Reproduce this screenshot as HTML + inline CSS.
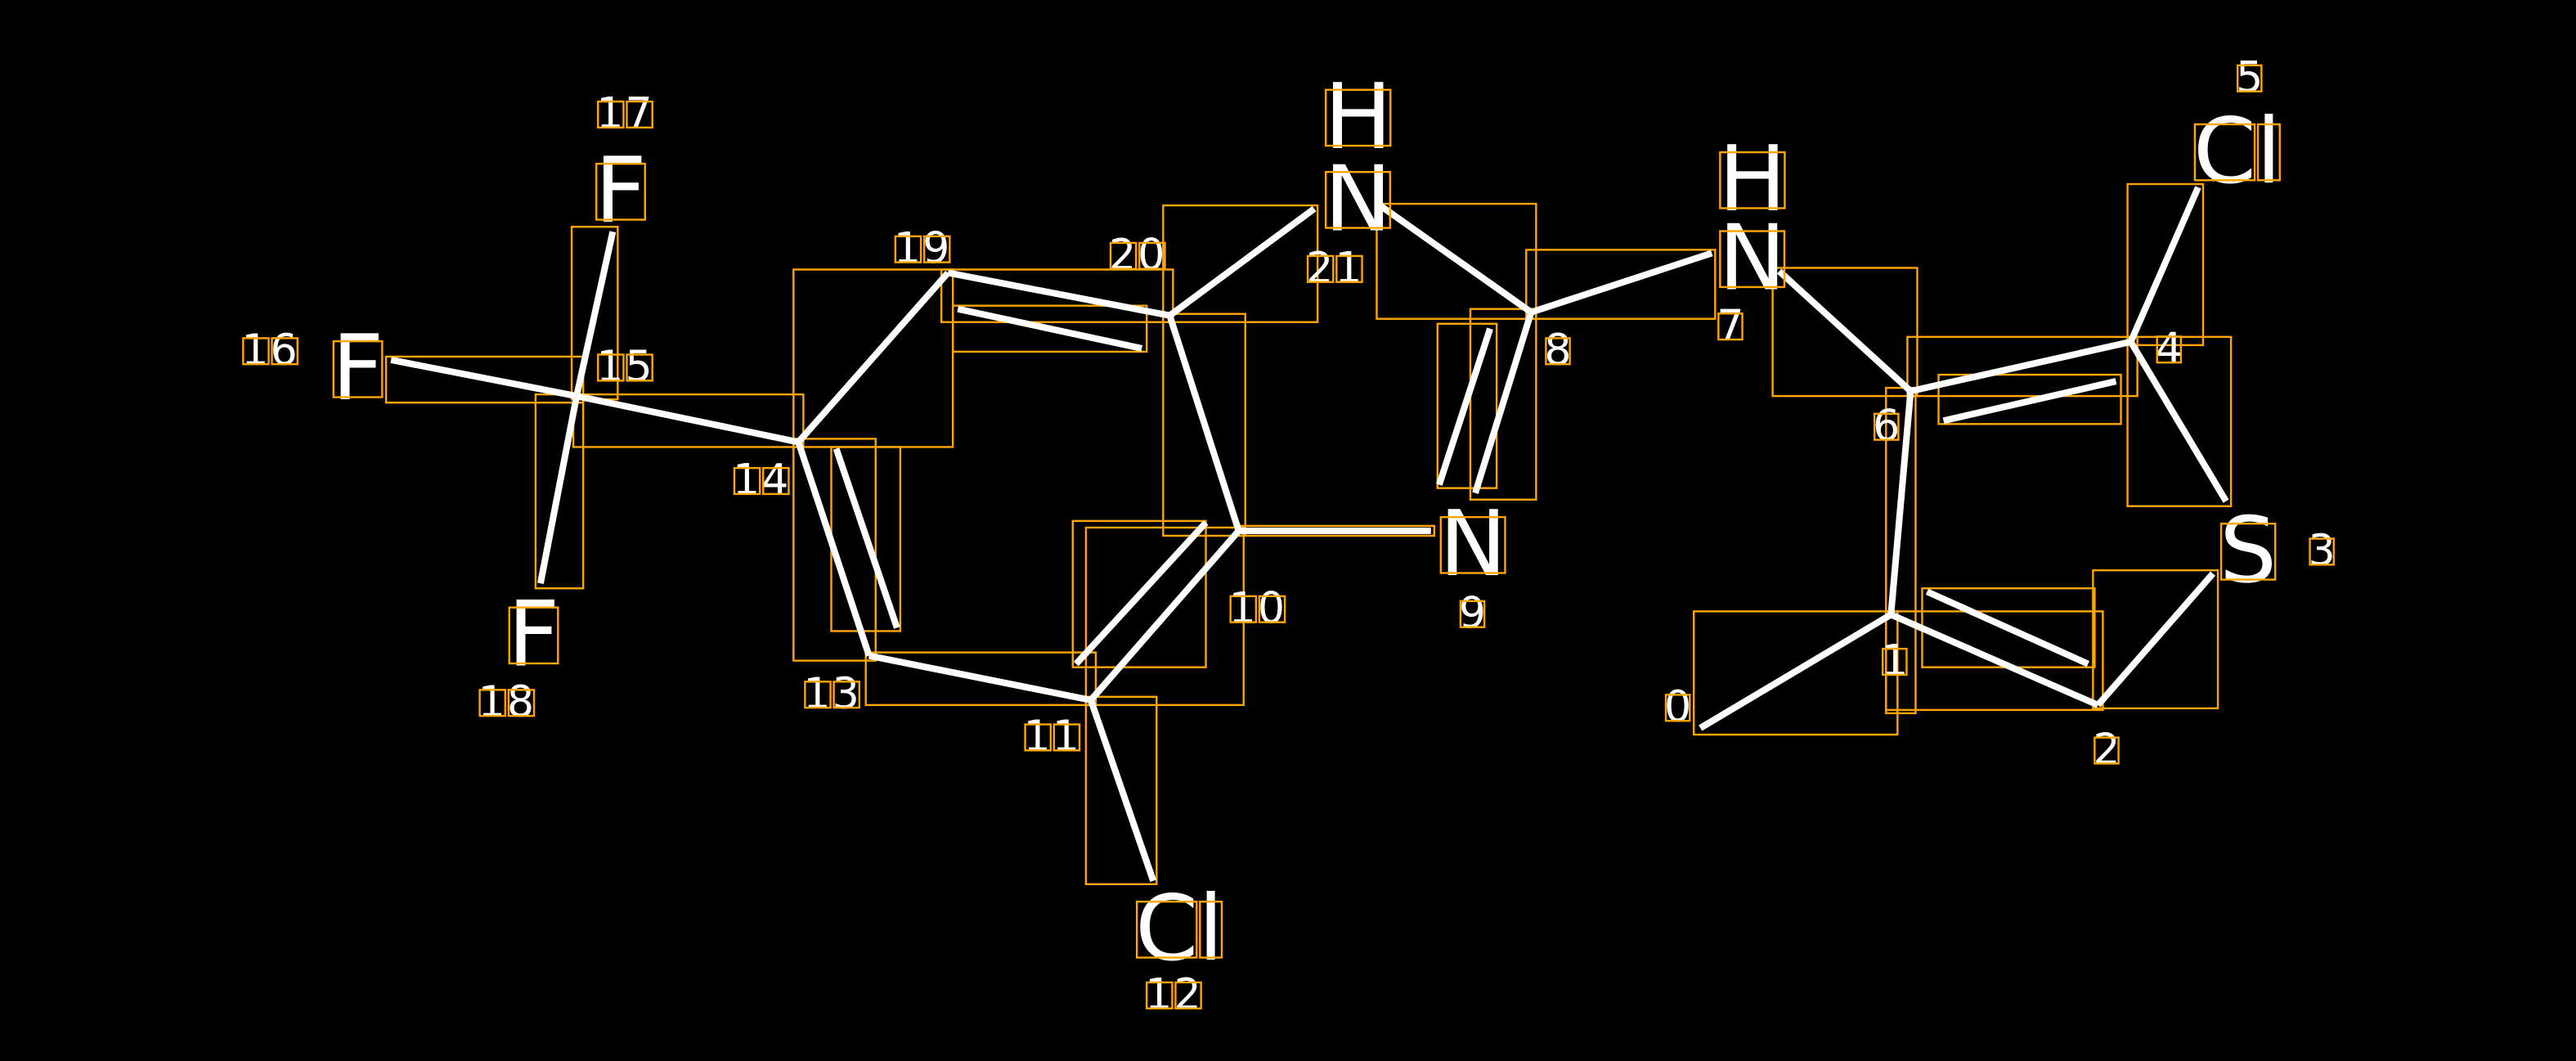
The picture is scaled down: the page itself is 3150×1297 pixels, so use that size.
<!DOCTYPE html>
<html><head><meta charset="utf-8"><style>
html,body{margin:0;padding:0;background:#000;overflow:hidden}
svg{display:block}
text{font-family:"DejaVu Sans","Liberation Sans",sans-serif;fill:#fff}
</style></head><body>
<svg id="s" width="3150" height="1297" viewBox="0 0 1568 645.6" preserveAspectRatio="none">
<rect width="1568" height="646" fill="#000"/>
<g fill="none" stroke="#FFA500" stroke-width="1.2">
<rect x="1031" y="372" width="124" height="75"/>
<rect x="1148" y="372" width="132" height="60"/>
<rect x="1170" y="358" width="105" height="48"/>
<rect x="1274" y="347" width="76" height="84"/>
<rect x="1148" y="236" width="18" height="198"/>
<rect x="1161" y="205" width="140" height="36"/>
<rect x="1180" y="228" width="111" height="30"/>
<rect x="1295" y="112" width="46" height="98"/>
<rect x="1295" y="205" width="63" height="103"/>
<rect x="1079" y="163" width="88" height="78"/>
<rect x="929" y="152" width="115" height="42"/>
<rect x="838" y="124" width="97" height="70"/>
<rect x="895" y="188" width="40" height="116"/>
<rect x="875" y="197" width="36" height="100"/>
<rect x="708" y="125" width="94" height="71"/>
<rect x="708" y="191" width="50" height="135"/>
<rect x="754" y="320" width="119" height="6"/>
<rect x="661" y="321" width="96" height="108"/>
<rect x="653" y="317" width="81" height="89"/>
<rect x="661" y="424" width="43" height="114"/>
<rect x="527" y="397" width="140" height="32"/>
<rect x="483" y="267" width="50" height="135"/>
<rect x="506" y="272" width="42" height="112"/>
<rect x="483" y="164" width="97" height="108"/>
<rect x="573" y="164" width="141" height="32"/>
<rect x="580" y="186" width="118" height="28"/>
<rect x="349" y="240" width="140" height="32"/>
<rect x="348" y="138" width="28" height="105"/>
<rect x="235" y="217" width="120" height="28"/>
<rect x="326" y="240" width="29" height="118"/>
</g>
<g stroke="#fff" stroke-width="4" stroke-linecap="butt">
<line x1="1035" y1="443" x2="1151" y2="374"/>
<line x1="1151" y1="374" x2="1277" y2="429"/>
<line x1="1173" y1="360" x2="1271" y2="404"/>
<line x1="1277" y1="429" x2="1347" y2="349"/>
<line x1="1151" y1="374" x2="1163" y2="238"/>
<line x1="1163" y1="238" x2="1297" y2="208"/>
<line x1="1183" y1="256" x2="1288" y2="232"/>
<line x1="1297" y1="208" x2="1338" y2="114"/>
<line x1="1297" y1="208" x2="1355" y2="305"/>
<line x1="1163" y1="238" x2="1083" y2="165"/>
<line x1="932" y1="190" x2="1042" y2="154"/>
<line x1="932" y1="190" x2="840" y2="125"/>
<line x1="932" y1="190" x2="898" y2="300"/>
<line x1="907" y1="200" x2="876" y2="295"/>
<line x1="800" y1="127" x2="712" y2="192"/>
<line x1="712" y1="192" x2="754" y2="323"/>
<line x1="754" y1="323" x2="871" y2="323"/>
<line x1="754" y1="323" x2="664" y2="426"/>
<line x1="734" y1="318" x2="655" y2="404"/>
<line x1="664" y1="426" x2="702" y2="536"/>
<line x1="664" y1="426" x2="529" y2="399"/>
<line x1="529" y1="399" x2="486" y2="269"/>
<line x1="509" y1="273" x2="546" y2="382"/>
<line x1="486" y1="269" x2="577" y2="166"/>
<line x1="577" y1="166" x2="712" y2="192"/>
<line x1="583" y1="188" x2="695" y2="212"/>
<line x1="486" y1="269" x2="351" y2="241"/>
<line x1="351" y1="241" x2="373" y2="141"/>
<line x1="351" y1="241" x2="238" y2="219"/>
<line x1="351" y1="241" x2="329" y2="355"/>
</g>
<g id="big" font-size="55">
<text x="806" y="90">H</text><text x="806" y="140">N</text>
<text x="1046" y="128">H</text><text x="1046" y="176">N</text>
<text x="362" y="135">F</text>
<text x="202" y="243">F</text>
<text x="309" y="405">F</text>
<text x="1335" y="111">Cl</text>
<text x="1351" y="354">S</text>
<text x="876" y="350">N</text>
<text x="691" y="584">Cl</text>
</g>
<g id="num" font-size="26">
<text x="363" y="78" letter-spacing="1">17</text>
<text x="363" y="232" letter-spacing="1">15</text>
<text x="147" y="222" letter-spacing="1">16</text>
<text x="544" y="160" letter-spacing="1">19</text>
<text x="675" y="164" letter-spacing="1">20</text>
<text x="795" y="172" letter-spacing="1">21</text>
<text x="446" y="301" letter-spacing="1">14</text>
<text x="489" y="431" letter-spacing="1">13</text>
<text x="623" y="457" letter-spacing="1">11</text>
<text x="748" y="379" letter-spacing="1">10</text>
<text x="697" y="614" letter-spacing="1">12</text>
<text x="291" y="436" letter-spacing="1">18</text>
<text x="888" y="382">9</text>
<text x="940" y="222">8</text>
<text x="1045" y="207">7</text>
<text x="1140" y="268">6</text>
<text x="1312" y="221">4</text>
<text x="1361" y="56">5</text>
<text x="1405" y="344">3</text>
<text x="1145" y="411">1</text>
<text x="1013" y="439">0</text>
<text x="1274" y="465">2</text>
</g>
<g id="tb" fill="none" stroke="#FFA500" stroke-width="1.2"></g>
</svg>
<script>
(function(){
var ns="http://www.w3.org/2000/svg",g=document.getElementById("tb");
document.querySelectorAll("#big text,#num text").forEach(function(t){
 var n=t.getNumberOfChars();
 for(var i=0;i<n;i++){
  var b=t.getExtentOfChar(i);
  var top=b.y+b.height*0.24, bot=b.y+b.height*0.77;
  var r=document.createElementNS(ns,"rect");
  r.setAttribute("x",b.x+1);r.setAttribute("y",top);
  r.setAttribute("width",Math.max(b.width-2,3));r.setAttribute("height",bot-top);
  g.appendChild(r);
 }
});
})();
</script>
</body></html>
